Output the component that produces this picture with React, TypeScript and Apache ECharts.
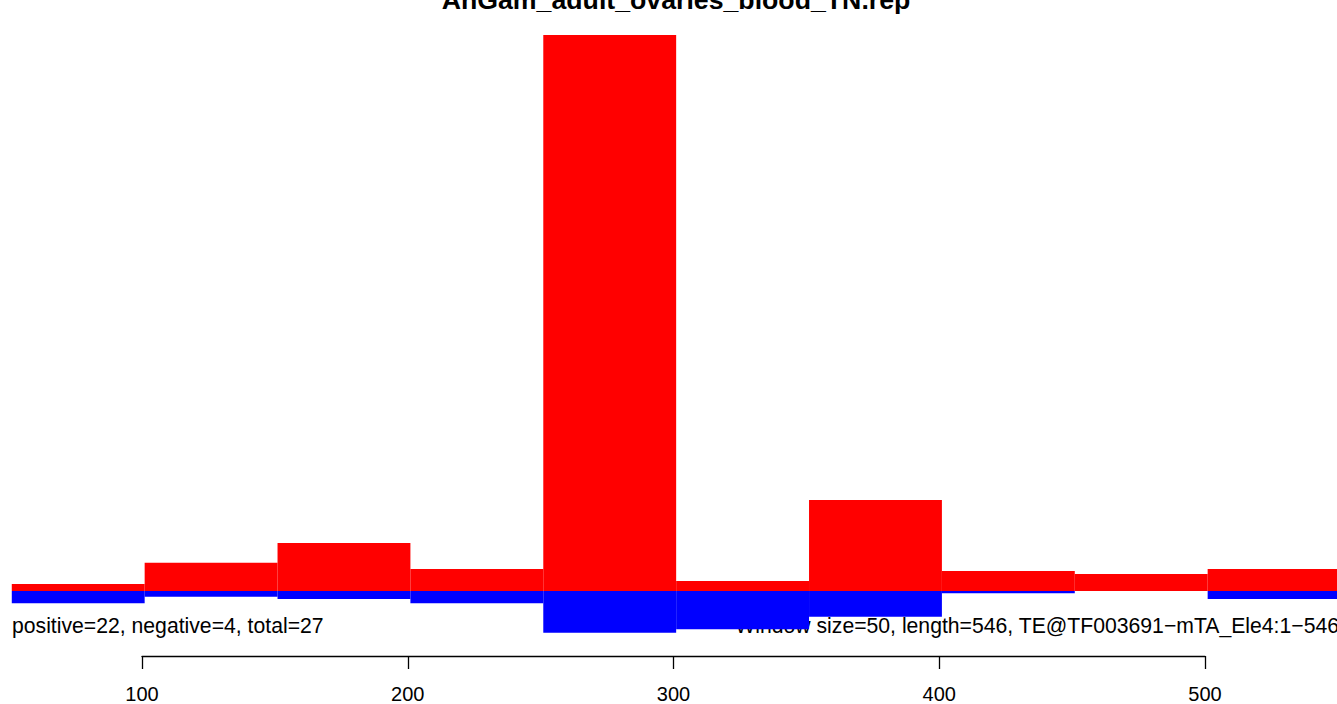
import React, { useEffect, useRef } from "react";
import * as echarts from "echarts";

const TITLE = "AnGam_adult_ovaries_blood_TN.rep";
const LEFT_NOTE = "positive=22, negative=4, total=27";
const RIGHT_NOTE = "Window size=50, length=546, TE@TF003691\u2212mTA_Ele4:1\u2212546";

const binStarts = [51, 101, 151, 201, 251, 301, 351, 401, 451, 501];
const binWidth = 50;
const positiveValues = [1.26, 5.09, 8.63, 3.96, 100, 1.8, 16.37, 3.6, 3.06, 3.96];
const negativeValues = [-2.21, -1.03, -1.44, -2.21, -7.5, -6.89, -4.62, -0.41, 0, -1.44];
const tickValues = [100, 200, 300, 400, 500];

export default function App() {
  const ref = useRef<HTMLDivElement>(null);
  useEffect(() => {
    if (!ref.current) return;
    const chart = echarts.init(ref.current, null, { renderer: "svg" });
    const makeData = (vals: number[]) =>
      vals.map((v, i) => [binStarts[i], binStarts[i] + binWidth, v]);
    const renderItem = (color: string) => (params: any, api: any) => {
      const x0 = api.value(0);
      const x1 = api.value(1);
      const v = api.value(2);
      const p0 = api.coord([x0, 0]);
      const p1 = api.coord([x1, v]);
      const x = Math.min(p0[0], p1[0]);
      const y = Math.min(p0[1], p1[1]);
      return {
        type: "rect",
        shape: { x, y, width: Math.abs(p1[0] - p0[0]), height: Math.abs(p1[1] - p0[1]) },
        style: { fill: color, stroke: null },
      };
    };
    const xMin = 100 - 142 / ((1205 - 142) / 400);
    const xMax = 500 + (1337 - 1205) / ((1205 - 142) / 400);
    chart.setOption({
      animation: false,
      grid: [
        { left: 0, width: 1337, top: 35, height: 611.6 },
        { left: 142, width: 1063, top: 655, height: 1 },
      ],
      xAxis: [
        { type: "value", gridIndex: 0, min: xMin, max: xMax, show: false },
        {
          type: "value",
          gridIndex: 1,
          min: 100,
          max: 500,
          interval: 100,
          position: "bottom",
          axisLine: { show: true, lineStyle: { color: "#000", width: 1.3 } },
          axisTick: { show: true, length: 13, lineStyle: { color: "#000", width: 1.3 } },
          splitLine: { show: false },
          axisLabel: {
            color: "#000",
            fontFamily: "Liberation Sans",
            fontSize: 20,
            margin: 28,
            formatter: (v: number) => (tickValues.includes(v) ? String(v) : ""),
          },
        },
      ],
      yAxis: [
        { type: "value", gridIndex: 0, min: -10, max: 100, show: false },
        { type: "value", gridIndex: 1, show: false },
      ],
      series: [
        {
          type: "custom",
          xAxisIndex: 0,
          yAxisIndex: 0,
          renderItem: renderItem("#ff0000"),
          data: makeData(positiveValues),
          encode: { x: [0, 1], y: 2 },
        },
        {
          type: "custom",
          xAxisIndex: 0,
          yAxisIndex: 0,
          renderItem: renderItem("#0000ff"),
          data: makeData(negativeValues),
          encode: { x: [0, 1], y: 2 },
        },
      ],
      graphic: [
        {
          type: "text",
          x: 676,
          y: 0,
          style: {
            text: TITLE,
            fontFamily: "Liberation Sans",
            fontWeight: "bold",
            fontSize: 26.7,
            fill: "#000",
            align: "center",
            verticalAlign: "middle",
          },
        },
        {
          type: "text",
          x: 12,
          y: 625,
          style: {
            text: LEFT_NOTE,
            fontFamily: "Liberation Sans",
            fontSize: 21.2,
            fill: "#000",
            verticalAlign: "middle",
            align: "left",
          },
        },
        {
          type: "text",
          x: 1339,
          y: 625,
          style: {
            text: RIGHT_NOTE,
            fontFamily: "Liberation Sans",
            fontSize: 21.2,
            fill: "#000",
            verticalAlign: "middle",
            align: "right",
          },
        },
      ],
    });
    return () => chart.dispose();
  }, []);
  return (
    <div
      ref={ref}
      style={{ position: "absolute", left: 0, top: 0, width: 1337, height: 704, background: "#fff" }}
    />
  );
}
